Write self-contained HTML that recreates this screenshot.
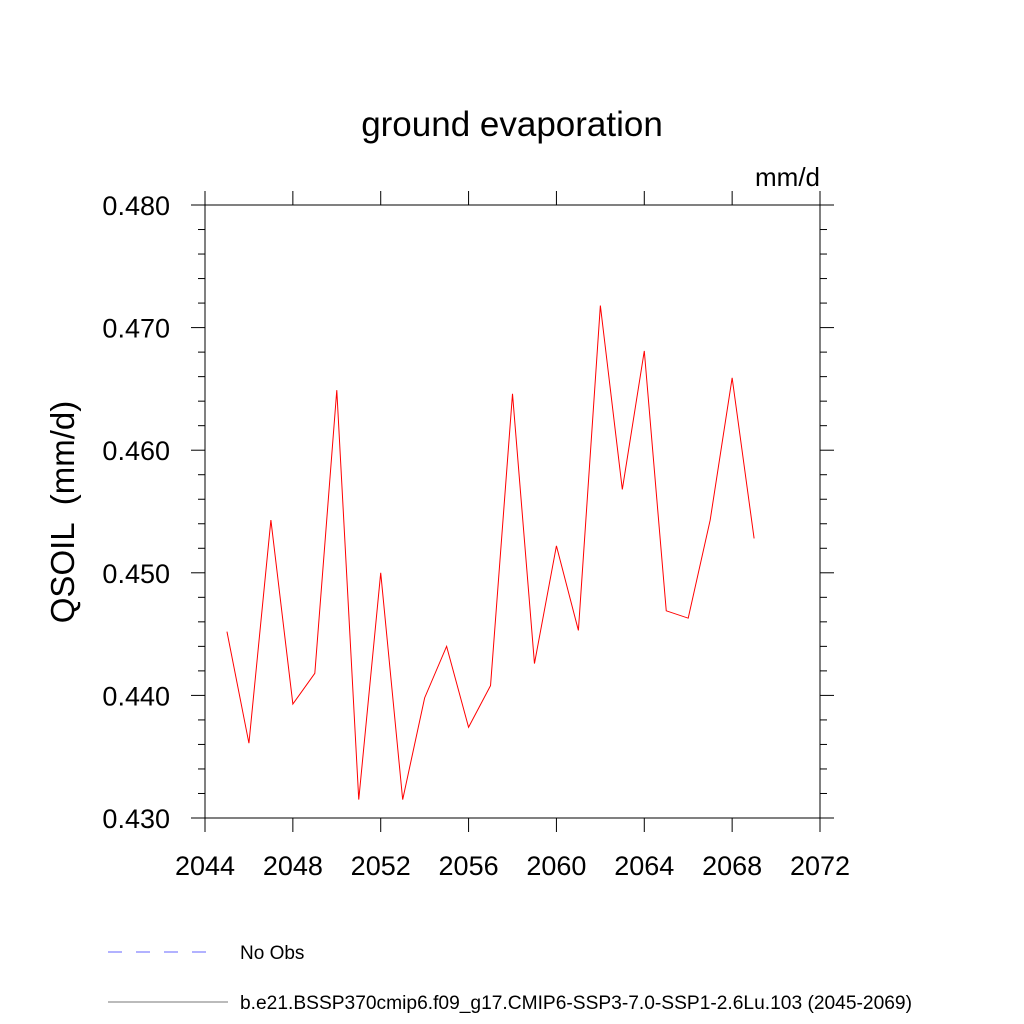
<!DOCTYPE html>
<html><head><meta charset="utf-8"><style>
body{margin:0;background:#fff}
svg{display:block;font-family:"Liberation Sans",sans-serif}
</style></head><body>
<svg id="c" width="1024" height="1024" viewBox="0 0 1024 1024">
<text x="512" y="136" text-anchor="middle" font-size="35">ground evaporation</text>
<text x="820" y="186" text-anchor="end" font-size="26">mm/d</text>
<text transform="translate(74,512) rotate(-90)" text-anchor="middle" font-size="33" xml:space="preserve">QSOIL  (mm/d)</text>
<g id="axes"></g>
<g id="series"></g>
<line x1="108" y1="952" x2="215" y2="952" stroke="#6666ff" stroke-width="1" stroke-dasharray="14,14"/>
<text x="240" y="959" font-size="19">No Obs</text>
<line x1="108" y1="1002" x2="228" y2="1002" stroke="#777" stroke-width="1"/>
<text x="240" y="1009" font-size="19.2">b.e21.BSSP370cmip6.f09_g17.CMIP6-SSP3-7.0-SSP1-2.6Lu.103 (2045-2069)</text>
</svg>
<script>
const years=[2045,2046,2047,2048,2049,2050,2051,2052,2053,2054,2055,2056,2057,2058,2059,2060,2061,2062,2063,2064,2065,2066,2067,2068,2069];
const values=[0.4452,0.4361,0.4543,0.4393,0.4418,0.4649,0.4315,0.4500,0.4315,0.4398,0.4440,0.4374,0.4408,0.4646,0.4426,0.4522,0.4453,0.4718,0.4568,0.4681,0.4469,0.4463,0.4543,0.4659,0.4528];
const xTicks=[2044,2048,2052,2056,2060,2064,2068,2072];
const yTicks=[0.430,0.440,0.450,0.460,0.470,0.480];
const yTickLabels=["0.430","0.440","0.450","0.460","0.470","0.480"];
const NS="http://www.w3.org/2000/svg";
const L=205,R=820,T=205,B=818;
const xs=v=>L+(v-2044)/(2072-2044)*(R-L);
const ys=v=>B-(v-0.430)/(0.480-0.430)*(B-T);
const ax=document.getElementById('axes');
function mk(tag,at,parent){const e=document.createElementNS(NS,tag);for(const k in at)e.setAttribute(k,at[k]);parent.appendChild(e);return e;}
let fr=mk('rect',{x:L,y:T,width:R-L,height:B-T,fill:'none',stroke:'#000','stroke-width':1},ax);


xTicks.forEach(t=>{const x=xs(t);
 let a=mk('line',{x1:x,y1:B,x2:x,y2:B+14,stroke:'#000'},ax);
 
 
 let b=mk('line',{x1:x,y1:T,x2:x,y2:T-14,stroke:'#000'},ax);
 
 
 let tx=mk('text',{x:x,y:875,'text-anchor':'middle','font-size':27},ax);tx.textContent=t;
 
 
});
for(let i=0;i<=25;i++){const v=0.430+i*0.002;const y=ys(v);const maj=i%5===0;const len=maj?14:7;
 let a=mk('line',{x1:L,y1:y,x2:L-len,y2:y,stroke:'#000'},ax);
 
 
 let b=mk('line',{x1:R,y1:y,x2:R+len,y2:y,stroke:'#000'},ax);
 
 
}
yTicks.forEach((t,i)=>{let tx=mk('text',{x:170,y:ys(t)+10,'text-anchor':'end','font-size':27},ax);tx.textContent=yTickLabels[i];
 
 
});
const pts=years.map((y,i)=>xs(y)+','+ys(values[i])).join(' ');
let pl=mk('polyline',{points:pts,fill:'none',stroke:'#ff0000','stroke-width':1},document.getElementById('series'));


</script>
</body></html>
